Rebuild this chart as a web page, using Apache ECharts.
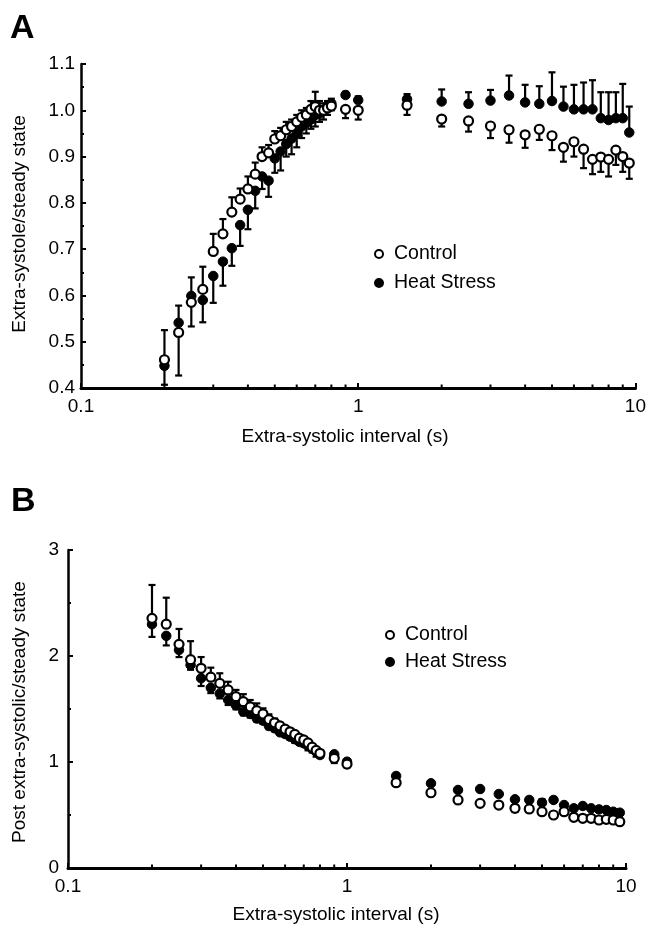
<!DOCTYPE html>
<html>
<head>
<meta charset="utf-8">
<script src="https://cdn.jsdelivr.net/npm/echarts@6/dist/echarts.min.js"></script>
<style>
html,body{margin:0;padding:0;background:#fff;}
#chart{width:649px;height:926px;}
</style>
</head>
<body>
<div id="chart"></div>
<script>
// ---------- DATA ----------
const intervals = [0.2,0.225,0.25,0.275,0.3,0.325,0.35,0.375,0.4,0.425,0.45,0.475,0.5,0.525,0.55,0.575,0.6,0.625,0.65,0.675,0.7,0.725,0.75,0.775,0.8,0.9,1.0,1.5,2,2.5,3,3.5,4,4.5,5,5.5,6,6.5,7,7.5,8,8.5,9,9.5];

// Panel A: extra-systole / steady state
const ctrlA    = [0.461,0.520,0.585,0.613,0.695,0.733,0.780,0.808,0.830,0.862,0.900,0.908,0.938,0.945,0.958,0.965,0.975,0.985,0.990,1.002,1.008,1.000,1.000,1.005,1.009,1.002,1.000,1.011,0.981,0.977,0.966,0.958,0.947,0.959,0.945,0.920,0.932,0.916,0.894,0.899,0.894,0.914,0.900,0.886];
const ctrlAErr = [0.525,0.427,0.533,0.662,0.733,0.765,0.812,0.831,0.857,0.887,0.920,0.925,0.955,0.962,0.975,0.980,0.990,1.000,1.005,1.020,1.040,1.020,1.015,1.020,1.025,0.983,0.980,0.990,0.965,0.954,0.940,0.930,0.919,0.936,0.914,0.889,0.900,0.875,0.862,0.867,0.857,0.882,0.867,0.852];
const heatA    = [0.448,0.541,0.599,0.590,0.642,0.673,0.702,0.752,0.785,0.826,0.857,0.848,0.896,0.911,0.927,0.939,0.950,0.965,0.972,0.980,0.990,0.993,1.000,1.010,1.015,1.033,1.022,1.024,1.019,1.014,1.021,1.032,1.017,1.014,1.020,1.008,1.002,1.002,1.002,0.983,0.979,0.983,0.983,0.952];
const heatAErr = [0.407,0.578,0.639,0.542,0.584,0.621,0.664,0.707,0.743,0.788,0.830,0.813,0.865,0.870,0.900,0.905,0.920,0.940,0.950,0.960,0.965,0.975,0.980,0.990,1.000,1.040,1.030,1.035,1.045,1.039,1.044,1.075,1.055,1.052,1.082,1.051,1.055,1.060,1.065,1.039,1.039,1.039,1.057,1.008];

// Panel B: post extra-systolic / steady state
const ctrlB    = [2.355,2.300,2.110,1.965,1.884,1.800,1.742,1.680,1.616,1.569,1.520,1.484,1.453,1.400,1.370,1.340,1.310,1.285,1.260,1.225,1.208,1.180,1.140,1.110,1.082,1.035,0.980,0.805,0.710,0.642,0.610,0.594,0.563,0.557,0.531,0.500,0.531,0.478,0.469,0.469,0.453,0.459,0.453,0.437];
const ctrlBErr = [2.670,2.550,2.255,2.140,1.990,1.890,1.837,1.757,1.680,1.640,1.585,1.553,1.506,1.450,1.410,1.370,1.330,1.300,1.270,1.240,1.230,1.170,1.150,1.130,1.100,0.990,0.950,0.780,0.690,0.630,0.600,0.580,0.530,0.530,0.510,0.490,0.510,0.460,0.450,0.450,0.430,0.430,0.430,0.410];
const heatB    = [2.300,2.190,2.057,1.915,1.790,1.700,1.645,1.585,1.535,1.475,1.453,1.410,1.390,1.340,1.318,1.280,1.264,1.239,1.215,1.190,1.176,1.151,1.125,1.097,1.066,1.073,1.003,0.868,0.799,0.736,0.745,0.698,0.648,0.642,0.616,0.642,0.594,0.563,0.585,0.563,0.553,0.547,0.531,0.522];
const heatBErr = [2.180,2.100,1.990,1.870,1.717,1.650,1.600,1.538,1.497,1.440,1.420,1.380,1.360,1.310,1.290,1.260,1.240,1.210,1.180,1.170,1.150,1.110,1.090,1.050,1.040,1.090,1.020,0.890,0.820,0.750,0.760,0.710,0.665,0.660,0.650,0.660,0.610,0.580,0.600,0.580,0.570,0.565,0.550,0.540];

const xTickLabels = [0.1, 1, 10];
const logMinorTicks = [0.2,0.3,0.4,0.5,0.6,0.7,0.8,0.9,2,3,4,5,6,7,8,9];
const seriesNames = ['Control', 'Heat Stress'];

// ---------- CHART ----------
const FONT = "'Liberation Sans', Arial, Helvetica, sans-serif";
const chart = echarts.init(document.getElementById('chart'), null, {renderer: 'canvas'});

function pts(xs, ys) { return xs.map((x, i) => [x, ys[i]]); }
function errPts(xs, ys, es) { return xs.map((x, i) => [x, ys[i], es[i]]); }

function errRender(params, api) {
  const x = api.value(0), y = api.value(1), e = api.value(2);
  const p = api.coord([x, y]);
  const q = api.coord([x, e]);
  const cap = 3.5;
  return {
    type: 'group',
    children: [
      {type: 'line', shape: {x1: p[0], y1: p[1], x2: q[0], y2: q[1]}, style: {stroke: '#000', lineWidth: 2.2}},
      {type: 'line', shape: {x1: q[0] - cap, y1: q[1], x2: q[0] + cap, y2: q[1]}, style: {stroke: '#000', lineWidth: 2.2}}
    ]
  };
}
function minorTickRender(params, api) {
  const p = api.coord([api.value(0), api.value(1)]);
  return {type: 'line', shape: {x1: p[0], y1: p[1], x2: p[0], y2: p[1] - 3.5}, style: {stroke: '#000', lineWidth: 2}};
}

function xAxisCfg(gridIndex) {
  return {
    type: 'log', logBase: 10, min: 0.1, max: 10, gridIndex,
    axisLine: {show: true, lineStyle: {color: '#000', width: 3}},
    axisTick: {show: true, inside: true, length: 5, lineStyle: {color: '#000', width: 2}},
    minorTick: {show: false},
    splitLine: {show: false},
    axisLabel: {
      color: '#000', fontSize: 19, fontFamily: FONT, margin: 9,
      formatter: v => (xTickLabels.some(t => Math.abs(t - v) < 1e-9) ? String(v) : '')
    }
  };
}
function yAxisCfg(gridIndex, min, max, interval, decimals, margin) {
  return {
    type: 'value', min, max, interval, gridIndex,
    axisLine: {show: true, lineStyle: {color: '#000', width: 2.5}},
    axisTick: {show: true, inside: true, length: 5, lineStyle: {color: '#000', width: 2}},
    minorTick: {show: true, splitNumber: 2, length: 3, lineStyle: {color: '#000', width: 2}},
    splitLine: {show: false},
    axisLabel: {color: '#000', fontSize: 19, fontFamily: FONT, margin, formatter: v => v.toFixed(decimals)}
  };
}

const ctrlStyle = {color: '#fff', borderColor: '#000', borderWidth: 2.2, opacity: 1};
const heatStyle = {color: '#000', borderColor: '#000', borderWidth: 1, opacity: 1};

function panelSeries(idx, c, ce, h, he) {
  return [
    {type: 'custom', name: 'errH' + idx, xAxisIndex: idx, yAxisIndex: idx, renderItem: errRender,
     encode: {x: 0, y: 1}, data: errPts(intervals, h, he), z: 2, silent: true},
    {type: 'custom', name: 'errC' + idx, xAxisIndex: idx, yAxisIndex: idx, renderItem: errRender,
     encode: {x: 0, y: 1}, data: errPts(intervals, c, ce), z: 2, silent: true},
    {type: 'scatter', name: seriesNames[1], xAxisIndex: idx, yAxisIndex: idx, symbol: 'circle', symbolSize: 9.5,
     itemStyle: heatStyle, data: pts(intervals, h), z: 3},
    {type: 'scatter', name: seriesNames[0], xAxisIndex: idx, yAxisIndex: idx, symbol: 'circle', symbolSize: 9,
     itemStyle: ctrlStyle, data: pts(intervals, c), z: 4},
    {type: 'custom', name: 'minor' + idx, xAxisIndex: idx, yAxisIndex: idx, renderItem: minorTickRender,
     encode: {x: 0, y: 1}, data: logMinorTicks.map(v => [v, idx === 0 ? 0.4 : 0]), z: 5, silent: true, clip: false}
  ];
}

function legendCfg(left, top, gap) {
  return {
    data: [{name: seriesNames[0], icon: 'circle'}, {name: seriesNames[1], icon: 'circle'}],
    orient: 'vertical', left, top, itemWidth: 8, itemHeight: 8, itemGap: gap,
    selectedMode: false,
    textStyle: {color: '#000', fontSize: 19.5, fontFamily: FONT, padding: [0, 0, 0, 6]}
  };
}

const option = {
  backgroundColor: '#fff',
  animation: false,
  grid: [
    {left: 81, top: 64, width: 558, height: 324},
    {left: 68, top: 550, width: 558, height: 318}
  ],
  xAxis: [xAxisCfg(0), xAxisCfg(1)],
  yAxis: [yAxisCfg(0, 0.4, 1.1, 0.1, 1, 6), yAxisCfg(1, 0, 3, 1, 0, 9)],
  legend: [legendCfg(369, 239, 9), legendCfg(380, 620, 7)],
  graphic: [
    {type: 'text', left: 10, top: 12, style: {text: 'A', fill: '#000', font: "bold 34px " + FONT}},
    {type: 'text', left: 11, top: 485, style: {text: 'B', fill: '#000', font: "bold 34px " + FONT}},
    {type: 'text', x: 20, y: 224, rotation: Math.PI / 2,
     style: {text: 'Extra-systole/steady state', fill: '#000', font: "19px " + FONT, align: 'center', verticalAlign: 'middle'}},
    {type: 'text', x: 20, y: 712, rotation: Math.PI / 2,
     style: {text: 'Post extra-systolic/steady state', fill: '#000', font: "19px " + FONT, align: 'center', verticalAlign: 'middle'}},
    {type: 'text', x: 345, y: 437,
     style: {text: 'Extra-systolic interval (s)', fill: '#000', font: "19px " + FONT, align: 'center', verticalAlign: 'middle'}},
    {type: 'text', x: 336, y: 915,
     style: {text: 'Extra-systolic interval (s)', fill: '#000', font: "19px " + FONT, align: 'center', verticalAlign: 'middle'}}
  ],
  series: [
    ...panelSeries(0, ctrlA, ctrlAErr, heatA, heatAErr),
    ...panelSeries(1, ctrlB, ctrlBErr, heatB, heatBErr)
  ]
};
chart.setOption(option);
</script>
</body>
</html>
